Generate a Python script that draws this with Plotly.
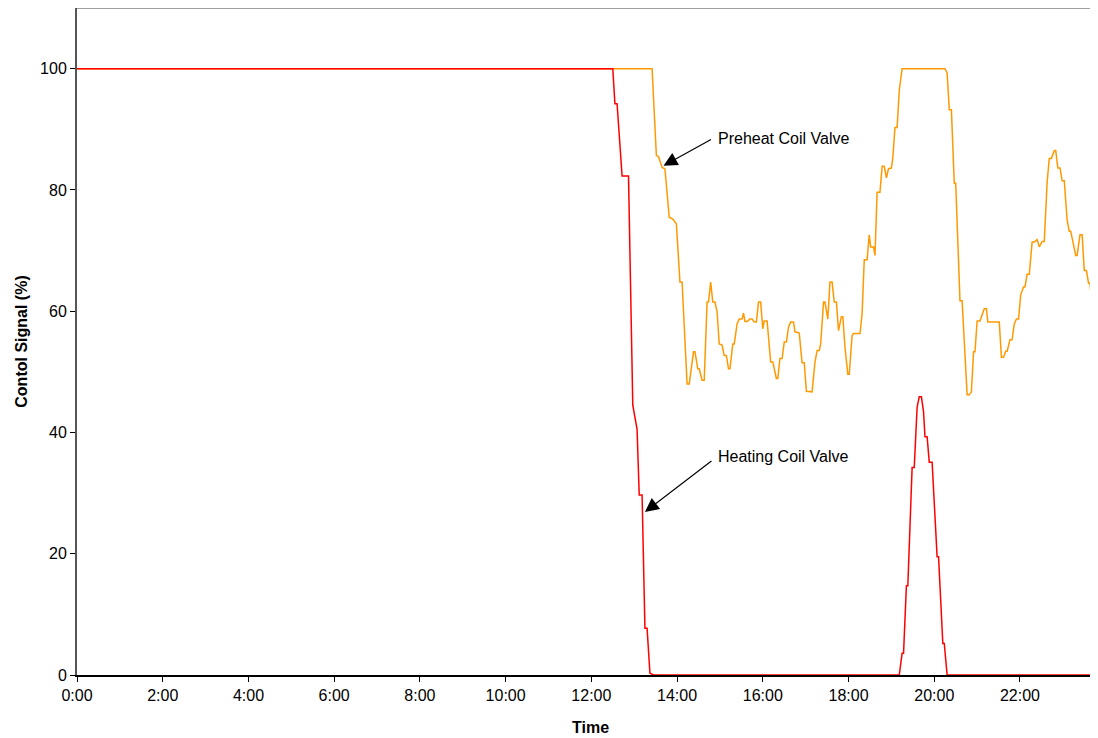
import plotly.graph_objects as go

def hm(s):
    h, m = s.split(":")
    return int(h) * 60 + int(m)

# Heating Coil Valve (time, %)
heat_time = ["0:00", "12:30", "12:33", "12:36", "12:43", "12:52", "12:58", "13:04", "13:07", "13:11",
             "13:15", "13:18", "13:22", "13:27", "19:11", "19:15", "19:17", "19:21", "19:23", "19:29",
             "19:32", "19:36", "19:39", "19:42", "19:45", "19:47", "19:50", "19:53", "19:57", "20:04",
             "20:06", "20:12", "20:14", "20:18", "23:47"]
heat_val = [100, 100, 94.2, 94.2, 82.3, 82.3, 44.5, 40.5, 29.7, 29.7,
            7.7, 7.7, 0.3, 0, 0, 3.6, 3.6, 14.7, 14.7, 34.2,
            34.2, 44.2, 45.9, 45.9, 43.4, 39.3, 39.3, 35.1, 35.1, 19.5,
            19.5, 5.2, 5.2, 0, 0]

# Preheat Coil Valve (time, %)
pre_time = ["0:00", "13:25", "13:31", "13:34", "13:39", "13:43", "13:49", "13:54", "13:59", "14:02",
            "14:04", "14:07", "14:14", "14:17", "14:23", "14:25", "14:29", "14:31", "14:35", "14:38",
            "14:42", "14:44", "14:47", "14:50", "14:53", "14:56", "14:59", "15:03", "15:06", "15:09",
            "15:12", "15:14", "15:18", "15:20", "15:24", "15:27", "15:31", "15:33", "15:35", "15:38",
            "15:42", "15:45", "15:48", "15:51", "15:54", "15:57", "16:00", "16:02", "16:06", "16:08",
            "16:11", "16:14", "16:19", "16:21", "16:24", "16:27", "16:30", "16:33", "16:36", "16:39",
            "16:43", "16:45", "16:51", "16:55", "16:58", "17:01", "17:06", "17:09", "17:13", "17:16",
            "17:19", "17:21", "17:25", "17:27", "17:31", "17:34", "17:37", "17:40", "17:43", "17:46",
            "17:50", "17:52", "17:55", "17:59", "18:01", "18:05", "18:07", "18:16", "18:19", "18:22",
            "18:26", "18:29", "18:31", "18:35", "18:37", "18:40", "18:44", "18:47", "18:50", "18:53",
            "18:56", "19:00", "19:02", "19:05", "19:08", "19:11", "19:15", "20:15", "20:18", "20:21",
            "20:24", "20:28", "20:30", "20:33", "20:36", "20:39", "20:46", "20:49", "20:52", "20:55",
            "20:57", "21:00", "21:04", "21:07", "21:10", "21:13", "21:15", "21:31", "21:34", "21:37",
            "21:40", "21:42", "21:46", "21:49", "21:52", "21:55", "21:58", "22:01", "22:05", "22:07",
            "22:10", "22:13", "22:17", "22:20", "22:24", "22:27", "22:31", "22:34", "22:38", "22:41",
            "22:44", "22:48", "22:50", "22:53", "22:56", "22:59", "23:02", "23:06", "23:09", "23:11",
            "23:15", "23:18", "23:20", "23:24", "23:27", "23:30", "23:33", "23:36", "23:38", "23:42",
            "23:47"]
pre_val = [100, 100, 85.7, 85.5, 83.7, 83.5, 75.5, 75.2, 74.4, 68.6,
           64.8, 64.8, 48.0, 48.0, 53.3, 53.3, 50.5, 50.5, 48.6, 48.6,
           61.5, 61.5, 64.8, 61.5, 61.5, 59.9, 54.6, 54.4, 52.7, 52.7,
           50.5, 50.5, 54.6, 54.6, 57.9, 58.7, 58.7, 59.7, 58.3, 58.3,
           58.7, 58.7, 58.2, 58.2, 61.5, 61.5, 57.1, 58.4, 58.4, 55.7,
           51.6, 51.6, 48.9, 48.9, 52.2, 52.2, 54.9, 54.9, 57.4, 58.2,
           58.2, 56.6, 56.4, 51.5, 51.5, 46.8, 46.7, 46.7, 51.6, 53.5,
           53.5, 54.6, 61.5, 61.5, 58.7, 64.8, 64.8, 61.5, 61.5, 56.8,
           59.1, 59.1, 54.1, 49.6, 49.6, 56.0, 56.3, 56.3, 59.6, 68.5,
           68.5, 72.6, 70.6, 70.6, 69.2, 79.6, 79.6, 83.9, 83.9, 82.0,
           83.5, 83.6, 85.3, 90.3, 90.3, 96.4, 100, 100, 99.3, 93.2,
           93.2, 81.1, 81.1, 70.7, 61.7, 61.7, 46.2, 46.2, 46.7, 53.3,
           53.3, 58.4, 58.4, 59.4, 60.4, 60.4, 58.2, 58.2, 52.4, 52.4,
           53.4, 53.4, 55.3, 55.3, 57.9, 58.7, 58.7, 62.7, 64.0, 64.0,
           66.1, 66.1, 71.4, 71.4, 71.8, 70.6, 71.5, 71.5, 81.3, 85.2,
           85.2, 86.5, 86.5, 83.6, 83.6, 81.5, 81.5, 75.0, 73.2, 73.2,
           70.6, 69.2, 69.2, 72.6, 72.6, 66.7, 66.7, 64.6, 64.6, 59.5,
           59.5]

tick_labels = ["0:00", "2:00", "4:00", "6:00", "8:00", "10:00", "12:00",
               "14:00", "16:00", "18:00", "20:00", "22:00"]
y_ticks = [0, 20, 40, 60, 80, 100]
x_end = "23:38"

FONT = "Liberation Sans, Arial, sans-serif"
FS = 16

fig = go.Figure()
fig.add_trace(go.Scatter(x=[hm(t) for t in pre_time], y=pre_val, mode="lines",
                         name="Preheat Coil Valve",
                         line=dict(color="#FF9900", width=1.5)))
fig.add_trace(go.Scatter(x=[hm(t) for t in heat_time], y=heat_val, mode="lines",
                         name="Heating Coil Valve",
                         line=dict(color="#FF0000", width=1.5)))

fig.update_layout(
    width=1082, height=730,
    margin=dict(l=69, r=0, t=0, b=63, pad=0),
    paper_bgcolor="white", plot_bgcolor="white",
    showlegend=False,
    font=dict(family=FONT, size=FS, color="black"),
    xaxis=dict(
        range=[0, hm(x_end)], tickvals=[hm(t) for t in tick_labels], ticktext=tick_labels,
        showgrid=False, zeroline=False, showline=True, linecolor="black", linewidth=1.5,
        ticks="outside", ticklen=5, tickcolor="black", tickwidth=1,
        tickfont=dict(size=FS, family=FONT),
    ),
    yaxis=dict(
        range=[0, 110], tickvals=y_ticks,
        showgrid=False, zeroline=False, showline=True, linecolor="#555555", linewidth=2,
        ticks="outside", ticklen=5, tickcolor="black", tickwidth=1,
        tickfont=dict(size=FS, family=FONT),
        title=dict(text="<b>Contol Signal (%)</b>", font=dict(size=FS, family=FONT), standoff=8),
    ),
)

# x-axis title, centred as in the original
fig.add_annotation(x=hm("11:59"), y=0, xref="x", yref="paper", text="<b>Time</b>",
                   showarrow=False, xanchor="center", yanchor="middle", yshift=-52,
                   font=dict(size=FS, family=FONT, color="black"))

# top border of the plot area
fig.add_shape(type="line", xref="paper", yref="paper", x0=0, x1=1, y0=1, y1=1,
              line=dict(color="#a0a0a0", width=2))

# arrows
fig.add_annotation(x=821, y=84.0, xref="x", yref="y", text="", showarrow=True,
                   arrowhead=2, arrowsize=2.3, arrowwidth=1.2, arrowcolor="black",
                   ax=49, ay=-27)
fig.add_annotation(x=795, y=26.9, xref="x", yref="y", text="", showarrow=True,
                   arrowhead=2, arrowsize=2.3, arrowwidth=1.2, arrowcolor="black",
                   ax=68, ay=-52)
# labels
fig.add_annotation(x=895, y=88.4, xref="x", yref="y", text="Preheat Coil Valve",
                   showarrow=False, xanchor="left", yanchor="middle",
                   font=dict(size=FS, family=FONT, color="black"))
fig.add_annotation(x=895, y=36.1, xref="x", yref="y", text="Heating Coil Valve",
                   showarrow=False, xanchor="left", yanchor="middle",
                   font=dict(size=FS, family=FONT, color="black"))

fig.write_html("out.html")
